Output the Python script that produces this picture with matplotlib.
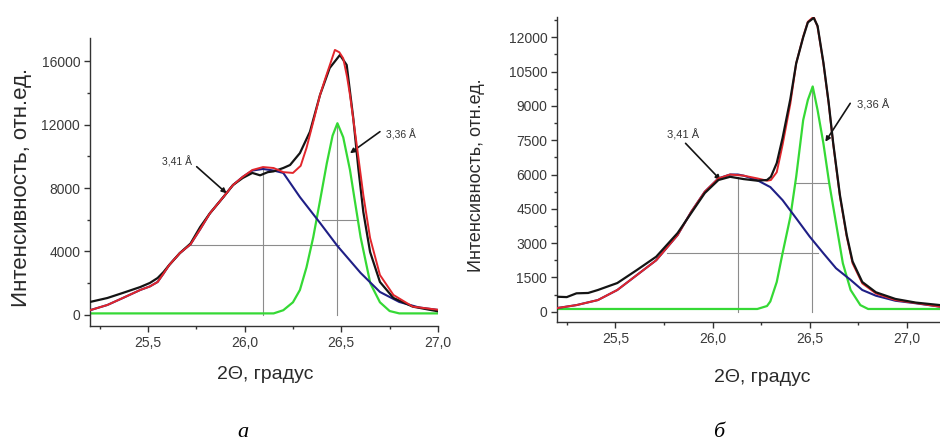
import matplotlib
matplotlib.use("Agg")
import matplotlib.pyplot as plt
from matplotlib.ticker import FixedLocator, MultipleLocator, FuncFormatter

plt.rcParams['font.family'] = ['Liberation Sans', 'DejaVu Sans']

# ---- panel a ----
black_a_x = [25.20, 25.29, 25.37, 25.46, 25.51, 25.55, 25.58, 25.61, 25.665, 25.72, 25.77, 25.82,
             25.89, 25.94, 25.99, 26.04, 26.08, 26.12, 26.15, 26.20, 26.235, 26.286, 26.338, 26.39,
             26.44, 26.493, 26.528, 26.562, 26.588, 26.614, 26.649, 26.70, 26.77, 26.87, 27.01]
black_a_y = [820, 1070, 1390, 1760, 2020, 2330, 2700, 3150, 3900, 4500, 5540, 6400,
             7430, 8190, 8630, 8950, 8800, 9000, 9050, 9260, 9450, 10200, 11550, 13860,
             15560, 16380, 15750, 12400, 9260, 6490, 3970, 2080, 1070, 525, 210]

red_a_x = [25.20, 25.29, 25.37, 25.46, 25.51, 25.55, 25.58, 25.61, 25.665, 25.72, 25.77, 25.82,
           25.89, 25.94, 25.99, 26.04, 26.095, 26.15, 26.20, 26.25, 26.29, 26.32, 26.36, 26.39,
           26.42, 26.445, 26.467, 26.49, 26.51, 26.53, 26.545, 26.58, 26.614, 26.649, 26.70,
           26.77, 26.87, 27.01]
red_a_y = [300, 630, 1070, 1575, 1800, 2080, 2600, 3150, 3900, 4450, 5400, 6400,
           7430, 8190, 8700, 9135, 9320, 9260, 9000, 8950, 9400, 10520, 12400, 13860,
           15000, 15900, 16700, 16550, 16170, 15000, 13860, 10710, 7560, 4850, 2520,
           1260, 525, 315]

blue_a_x = [25.20, 25.29, 25.37, 25.46, 25.51, 25.55, 25.58, 25.61, 25.665, 25.72, 25.77, 25.82,
            25.89, 25.94, 25.99, 26.04, 26.095, 26.15, 26.20, 26.286, 26.39, 26.48, 26.60, 26.70,
            26.80, 26.90, 27.01]
blue_a_y = [300, 630, 1070, 1575, 1800, 2080, 2600, 3150, 3900, 4450, 5400, 6400,
            7430, 8190, 8700, 9100, 9200, 9100, 8950, 7430, 5800, 4350, 2650, 1450,
            820, 480, 300]

green_a_x = [25.20, 26.15, 26.20, 26.25, 26.286, 26.32, 26.355, 26.39, 26.425, 26.455, 26.48,
             26.51, 26.545, 26.57, 26.60, 26.65, 26.70, 26.75, 26.80, 27.01]
green_a_y = [100, 100, 300, 800, 1575, 3000, 4900, 7200, 9550, 11300, 12080,
             11200, 9135, 7200, 4900, 2000, 800, 250, 100, 100]

# ---- panel б ----
black_b_x = [25.20, 25.25, 25.30, 25.36, 25.41, 25.51, 25.61, 25.71, 25.82, 25.89, 25.96, 26.03,
             26.09, 26.16, 26.23, 26.28, 26.30, 26.33, 26.36, 26.40, 26.43, 26.466, 26.49, 26.52,
             26.54, 26.57, 26.597, 26.62, 26.655, 26.69, 26.72, 26.77, 26.84, 26.94, 27.045, 27.17, 27.30]
black_b_y = [656, 640, 805, 820, 950, 1255, 1820, 2405, 3440, 4315, 5190, 5760,
             5900, 5800, 5730, 5760, 5900, 6500, 7600, 9300, 10860, 12000, 12650, 12850,
             12500, 10900, 9150, 7400, 5100, 3350, 2200, 1300, 850, 560, 400, 290, 250]

red_b_x = [25.20, 25.30, 25.41, 25.51, 25.61, 25.71, 25.82, 25.89, 25.96, 26.03, 26.09, 26.16,
           26.23, 26.28, 26.30, 26.33, 26.36, 26.40, 26.43, 26.466, 26.49, 26.52, 26.54, 26.57,
           26.597, 26.62, 26.655, 26.69, 26.72, 26.77, 26.84, 26.94, 27.045, 27.17, 27.30]
red_b_y = [160, 290, 510, 950, 1600, 2250, 3350, 4370, 5250, 5830, 6000, 5950,
           5830, 5730, 5760, 6100, 7300, 9100, 10860, 12030, 12680, 12900, 12460, 10860,
           9110, 7360, 5040, 3280, 2120, 1240, 800, 510, 380, 220, 180]

blue_b_x = [25.20, 25.30, 25.41, 25.51, 25.61, 25.71, 25.82, 25.89, 25.96, 26.03, 26.09, 26.13,
            26.16, 26.23, 26.297, 26.36, 26.43, 26.50, 26.57, 26.635, 26.71, 26.77, 26.84, 26.94,
            27.045, 27.17, 27.30]
blue_b_y = [160, 290, 510, 950, 1600, 2250, 3350, 4370, 5250, 5830, 6000, 6000,
            5950, 5750, 5450, 4880, 4085, 3280, 2555, 1900, 1390, 950, 700, 480,
            370, 220, 180]

green_b_x = [25.20, 26.23, 26.28, 26.297, 26.33, 26.36, 26.40, 26.43, 26.466, 26.49, 26.515,
             26.54, 26.57, 26.60, 26.635, 26.67, 26.71, 26.76, 26.80, 27.30]
green_b_y = [120, 120, 250, 450, 1300, 2560, 4150, 5900, 8380, 9260, 9850,
             8820, 7360, 5615, 3870, 2120, 950, 290, 120, 120]

# peak centres, heights and half-height segments (grey guide lines)
centres_a = [26.095, 26.48]
tops_a = [9135, 12080]
half_a = [(25.72, 26.49, 4410), (26.40, 26.585, 6000)]
centres_b = [26.13, 26.51]
tops_b = [5900, 9850]
half_b = [(25.767, 26.54, 2555), (26.43, 26.60, 5615)]

labels = ['3,41 Å', '3,36 Å']

BLACK = '#141414'
RED = '#e2262c'
BLUE = '#1f1f86'
GREEN = '#35d935'
GREY = '#8c8c8c'

fig = plt.figure(figsize=(9.4, 4.41), dpi=100)
ax1 = fig.add_axes([0.0957, 0.2608, 0.3702, 0.653])
ax2 = fig.add_axes([0.5926, 0.2698, 0.436, 0.6916])

comma = FuncFormatter(lambda v, p: f'{v:.1f}'.replace('.', ','))


def draw(ax, bx, by, rx, ry, ux, uy, gx, gy, centres, tops, halves, red_on_top):
    for c, t in zip(centres, tops):
        ax.plot([c, c], [0, t], color=GREY, lw=0.8, zorder=1)
    for x0, x1, h in halves:
        ax.plot([x0, x1], [h, h], color=GREY, lw=0.8, zorder=1)
    kw = dict(solid_joinstyle='round', solid_capstyle='round')
    ax.plot(gx, gy, color=GREEN, lw=1.6, zorder=2, **kw)
    ax.plot(ux, uy, color=BLUE, lw=1.5, zorder=3, **kw)
    ax.plot(bx, by, color=BLACK, lw=1.6, zorder=5 if red_on_top else 6, **kw)
    ax.plot(rx, ry, color=RED, lw=1.4, zorder=6 if red_on_top else 5, **kw)
    for s in ['top', 'right']:
        ax.spines[s].set_visible(False)
    for s in ['left', 'bottom']:
        ax.spines[s].set_color('#333333')
        ax.spines[s].set_linewidth(1.0)
    ax.xaxis.set_major_locator(FixedLocator([25.5, 26.0, 26.5, 27.0]))
    ax.xaxis.set_minor_locator(FixedLocator([25.25, 25.75, 26.25, 26.75, 27.25]))
    ax.xaxis.set_major_formatter(comma)
    ax.tick_params(which='major', direction='out', length=4, width=1, color='#333333',
                   labelsize=10, labelcolor='#3a3a3a', pad=3)
    ax.tick_params(which='minor', direction='out', length=2.5, width=1, color='#333333')


draw(ax1, black_a_x, black_a_y, red_a_x, red_a_y, blue_a_x, blue_a_y, green_a_x, green_a_y,
     centres_a, tops_a, half_a, True)
ax1.set_xlim(25.2, 27.0)
ax1.set_ylim(-693, 17450)
ax1.yaxis.set_major_locator(MultipleLocator(4000))
ax1.yaxis.set_minor_locator(MultipleLocator(2000))

draw(ax2, black_b_x, black_b_y, red_b_x, red_b_y, blue_b_x, blue_b_y, green_b_x, green_b_y,
     centres_b, tops_b, half_b, False)
ax2.set_xlim(25.2, 27.308)
ax2.set_ylim(-450, 12887)
ax2.yaxis.set_major_locator(MultipleLocator(1500))
ax2.yaxis.set_minor_locator(MultipleLocator(750))

arrow = dict(arrowstyle='-|>', color=BLACK, lw=1.2, mutation_scale=7, shrinkA=0, shrinkB=0)

# annotations: text, then arrow from start to tip
ax1.text(25.65, 9660, labels[0], fontsize=7.5, color='#333333', ha='center', va='center')
ax1.annotate('', xy=(25.907, 7667), xytext=(25.752, 9343), arrowprops=arrow)
ax1.text(26.81, 11340, labels[1], fontsize=7.5, color='#333333', ha='center', va='center')
ax1.annotate('', xy=(26.545, 10190), xytext=(26.70, 11550), arrowprops=arrow)

ax2.text(25.85, 7727, labels[0], fontsize=8, color='#333333', ha='center', va='center')
ax2.annotate('', xy=(26.041, 5760), xytext=(25.861, 7364), arrowprops=arrow)
ax2.text(26.827, 9040, labels[1], fontsize=8, color='#333333', ha='center', va='center')
ax2.annotate('', xy=(26.58, 7434), xytext=(26.708, 9113), arrowprops=arrow)

fig.text(0.0234, 0.576, 'Интенсивность, отн.ед.', rotation=90, fontsize=16,
         color='#2a2a2a', ha='center', va='center')
fig.text(0.507, 0.603, 'Интенсивность, отн.ед.', rotation=90, fontsize=13,
         color='#2a2a2a', ha='center', va='center')
fig.text(0.2819, 0.150, '2Θ, градус', fontsize=14, color='#2a2a2a', ha='center', va='center')
fig.text(0.8106, 0.145, '2Θ, градус', fontsize=14, color='#2a2a2a', ha='center', va='center')
fig.text(0.2585, 0.0204, 'а', fontsize=16, style='italic', family='Liberation Serif',
         ha='center', va='center')
fig.text(0.764, 0.0204, 'б', fontsize=16, style='italic', family='Liberation Serif',
         ha='center', va='center')

fig.savefig('out.png', dpi=100)
